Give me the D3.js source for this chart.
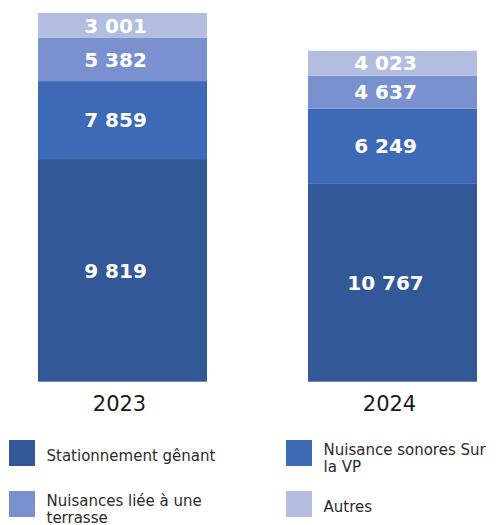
<!DOCTYPE html>
<html>
  <head>
    <meta charset="utf-8">
    <script type="text/javascript" src="https://d3js.org/d3.v7.min.js"></script>
  </head>
  <style>
    body { margin: 0; background: #fff; }
    text { font-family: "DejaVu Sans", sans-serif; }
  </style>
  <body>
    <script type="text/javascript">
        var width = 498,
            height = 525;

        // data
        var years = ["2023", "2024"];
        var categories = ["Stationnement gênant", "Nuisance sonores Sur la VP", "Nuisances liée à une terrasse", "Autres"];
        // printed counts, bottom to top
        var counts2023 = [9819, 7859, 5382, 3001];
        var counts2024 = [10767, 6249, 4637, 4023];
        // the segments in the source are not drawn to the printed counts,
        // so these are the lengths (same units)
        var drawn2023 = [15700, 5500, 3040, 1760];
        var drawn2024 = [13950, 5300, 2330, 1760];
        var colors = ["#335898", "#3e69b6", "#7a91cf", "#b2bde0"];

        var svg = d3.select("body").append("svg")
                    .attr("width", width)
                    .attr("height", height);

        var x = d3.scaleBand().domain(years).range([38, 477]).paddingInner(0.374).paddingOuter(0);
        var y = d3.scaleLinear().domain([0, 26000]).range([381.7, 13]);
        var color = d3.scaleOrdinal().domain(categories).range(colors);

        var counts = {"2023": counts2023, "2024": counts2024};
        var drawn = {"2023": drawn2023, "2024": drawn2024};

        // build stacked rows
        var rows = years.map(function(yr) {
            var r = {year: yr};
            categories.forEach(function(c, i) { r[c] = drawn[yr][i]; });
            return r;
        });
        var series = d3.stack().keys(categories)(rows);

        var fmt = function(v) { return d3.format(",")(v).replace(/,/g, " "); };

        var layer = svg.append("g").selectAll("g")
            .data(series)
            .enter().append("g")
            .attr("fill", function(d) { return color(d.key); });

        layer.selectAll("rect")
            .data(function(d) { return d.map(function(p) { p.key = d.key; return p; }); })
            .enter().append("rect")
            .attr("x", function(d) { return x(d.data.year); })
            .attr("width", x.bandwidth())
            .attr("y", function(d) { return y(d[1]); })
            .attr("height", function(d) { return y(d[0]) - y(d[1]); });

        layer.selectAll("text")
            .data(function(d) { return d; })
            .enter().append("text")
            .attr("x", function(d) { return x(d.data.year) + x.bandwidth() / 2 - 7; })
            .attr("y", function(d) { return (y(d[0]) + y(d[1])) / 2; })
            .attr("dy", "0.36em")
            .attr("text-anchor", "middle")
            .attr("fill", "#fff")
            .style("font-size", "20px")
            .style("font-weight", "bold")
            .text(function(d) {
                return fmt(counts[d.data.year][categories.indexOf(d.key)]);
            });

        // year axis
        var xAxis = svg.append("g")
            .attr("transform", "translate(-3," + 381.7 + ")")
            .call(d3.axisBottom(x).tickSize(0).tickPadding(14));
        xAxis.select(".domain").remove();
        xAxis.selectAll("text")
            .attr("fill", "#1a1a1a")
            .style("font-family", "'DejaVu Sans', sans-serif")
            .style("font-size", "21px");

        // legend, 2 columns
        var legendPos = [[9, 440], [286, 440], [9, 491], [286, 491]];
        var wrapAt = [200, 168, 200, 168];
        var legend = svg.append("g").selectAll("g")
            .data(categories)
            .enter().append("g")
            .attr("transform", function(d, i) { return "translate(" + legendPos[i][0] + "," + legendPos[i][1] + ")"; });

        legend.append("rect")
            .attr("width", 26)
            .attr("height", 26)
            .attr("fill", function(d) { return color(d); });

        legend.append("text")
            .attr("x", 37.5)
            .attr("fill", "#2b2b2b")
            .style("font-size", "15px")
            .each(function(d, k) {
                var t = d3.select(this);
                var words = d.split(" "), lines = [], line = [];
                var probe = t.append("tspan");
                words.forEach(function(w) {
                    line.push(w);
                    probe.text(line.join(" "));
                    if (probe.node().getComputedTextLength() > wrapAt[k] && line.length > 1) {
                        line.pop();
                        lines.push(line.join(" "));
                        line = [w];
                    }
                });
                lines.push(line.join(" "));
                probe.remove();
                var first = 13 + 8 - (lines.length - 1) * 6;
                lines.forEach(function(l, i) {
                    t.append("tspan")
                        .attr("x", 37.5)
                        .attr("y", first + i * 17)
                        .text(l);
                });
            });
    </script>
  </body>
</html>
